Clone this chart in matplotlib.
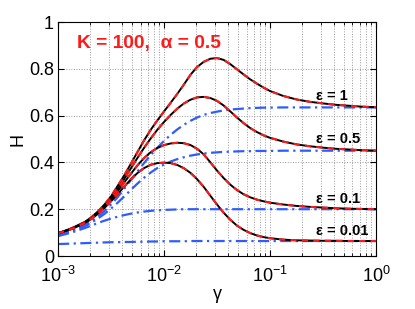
import matplotlib
matplotlib.use('Agg')
import matplotlib.pyplot as plt
import numpy as np

plt.rcParams['font.family'] = ['Liberation Sans', 'DejaVu Sans']
plt.rcParams['mathtext.fontset'] = 'custom'
plt.rcParams['mathtext.rm'] = 'Liberation Sans'
plt.rcParams['mathtext.it'] = 'Liberation Sans'

# log10(gamma) sample points
lg = [-3.0, -2.875,
      -2.75, -2.6875, -2.625, -2.5625, -2.5, -2.4375, -2.375, -2.3125, -2.25, -2.1875,
      -2.125, -2.0625, -2.0, -1.9375, -1.875, -1.8125, -1.75, -1.6875, -1.625, -1.5625,
      -1.5, -1.4375, -1.375, -1.3125, -1.25, -1.1875, -1.125, -1.0625, -1.0,
      -0.875, -0.75, -0.625, -0.5, -0.375, -0.25, -0.125, 0.0]

# H, full model (black solid / red dashed)
h_eps1 = [0.097, 0.118,
          0.145, 0.165, 0.190, 0.220, 0.255, 0.300, 0.345, 0.395, 0.445, 0.495,
          0.540, 0.580, 0.618, 0.655, 0.693, 0.733, 0.775, 0.808, 0.830, 0.843,
          0.846, 0.838, 0.820, 0.798, 0.776, 0.755, 0.737, 0.720, 0.705,
          0.684, 0.669, 0.659, 0.652, 0.646, 0.642, 0.638, 0.636]
h_eps05 = [0.097, 0.117,
           0.143, 0.163, 0.187, 0.215, 0.248, 0.287, 0.330, 0.375, 0.420, 0.463,
           0.503, 0.540, 0.573, 0.603, 0.630, 0.652, 0.668, 0.678, 0.680, 0.675,
           0.663, 0.643, 0.618, 0.592, 0.568, 0.547, 0.530, 0.516, 0.505,
           0.489, 0.477, 0.469, 0.463, 0.458, 0.455, 0.452, 0.450]
h_eps01 = [0.097, 0.116,
           0.142, 0.161, 0.184, 0.211, 0.242, 0.277, 0.315, 0.352, 0.388, 0.419,
           0.444, 0.462, 0.474, 0.481, 0.484, 0.482, 0.474, 0.458, 0.434, 0.400,
           0.365, 0.333, 0.305, 0.282, 0.264, 0.251, 0.241, 0.234, 0.228,
           0.220, 0.214, 0.210, 0.207, 0.204, 0.202, 0.201, 0.200]
h_eps001 = [0.097, 0.115,
            0.140, 0.158, 0.180, 0.205, 0.234, 0.265, 0.297, 0.328, 0.355, 0.376,
            0.390, 0.397, 0.399, 0.397, 0.389, 0.375, 0.355, 0.328, 0.295, 0.257,
            0.220, 0.185, 0.155, 0.130, 0.112, 0.098, 0.088, 0.081, 0.076,
            0.070, 0.067, 0.066, 0.065, 0.065, 0.064, 0.064, 0.064]

# H, limiting curves (blue dash-dot)
b_eps1 = [0.092, 0.108,
          0.132, 0.148, 0.168, 0.192, 0.220, 0.252, 0.288, 0.325, 0.362, 0.398,
          0.432, 0.463, 0.492, 0.518, 0.541, 0.561, 0.578, 0.592, 0.603, 0.611,
          0.617, 0.622, 0.626, 0.628, 0.630, 0.632, 0.633, 0.634, 0.634,
          0.635, 0.635, 0.635, 0.635, 0.635, 0.635, 0.635, 0.635]
b_eps05 = [0.090, 0.105,
           0.127, 0.142, 0.160, 0.180, 0.203, 0.228, 0.255, 0.283, 0.310, 0.335,
           0.357, 0.376, 0.391, 0.404, 0.414, 0.422, 0.429, 0.434, 0.438, 0.441,
           0.443, 0.445, 0.446, 0.447, 0.448, 0.448, 0.449, 0.449, 0.449,
           0.450, 0.450, 0.450, 0.450, 0.450, 0.450, 0.450, 0.450]
b_eps01 = [0.085, 0.100,
           0.119, 0.130, 0.141, 0.151, 0.160, 0.168, 0.175, 0.181, 0.186, 0.190,
           0.193, 0.195, 0.197, 0.198, 0.199, 0.200, 0.200, 0.200, 0.200, 0.200,
           0.200, 0.200, 0.200, 0.200, 0.200, 0.200, 0.200, 0.200, 0.200,
           0.200, 0.200, 0.200, 0.200, 0.200, 0.200, 0.200, 0.200]
b_eps001 = [0.051, 0.053,
            0.055, 0.056, 0.057, 0.058, 0.059, 0.059, 0.060, 0.060, 0.061, 0.061,
            0.062, 0.062, 0.063, 0.063, 0.063, 0.063, 0.064, 0.064, 0.064, 0.064,
            0.064, 0.064, 0.064, 0.064, 0.064, 0.064, 0.064, 0.064, 0.064,
            0.064, 0.064, 0.064, 0.064, 0.064, 0.064, 0.064, 0.064]

eps_labels = ['\u03b5 = 1', '\u03b5 = 0.5', '\u03b5 = 0.1', '\u03b5 = 0.01']
label_y = [0.667, 0.483, 0.226, 0.09]

gamma = 10.0 ** np.array(lg)

fig = plt.figure(figsize=(4.15, 3.09), dpi=100)
ax = fig.add_axes([0.14, 0.1715, 0.766, 0.7573])

blue = '#2f5cff'
for b in [b_eps1, b_eps05, b_eps01, b_eps001]:
    ax.plot(gamma, b, color=blue, linestyle='-.', linewidth=1.6, dashes=(5, 2, 1, 2))
for h in [h_eps1, h_eps05, h_eps01, h_eps001]:
    ax.plot(gamma, h, color='black', linestyle='-', linewidth=1.4)
    ax.plot(gamma, h, color='#ff1a1a', linestyle='--', linewidth=1.5, dashes=(3, 2.5))

for s, yy in zip(eps_labels, label_y):
    ax.text(0.27, yy, s, fontsize=10.5, fontweight='bold', ha='left', va='baseline')

ax.text(1.5e-3, 0.888, 'K = 100,  \u03b1 = 0.5', color='#ff1a1a', fontsize=13.8,
        fontweight='bold', ha='left', va='baseline')

ax.set_xscale('log')
ax.set_xlim(1e-3, 1)
ax.set_ylim(0, 1)
ax.set_xticks([1e-3, 1e-2, 1e-1, 1])
ax.set_xticklabels(['$10^{-3}$', '$10^{-2}$', '$10^{-1}$', '$10^{0}$'])
ax.set_yticks([0, 0.2, 0.4, 0.6, 0.8, 1])
ax.set_yticklabels(['0', '0.2', '0.4', '0.6', '0.8', '1'])
ax.tick_params(which='both', direction='in', top=True, right=True, labelsize=13)
ax.tick_params(which='major', length=4)
ax.tick_params(which='minor', length=2)
ax.tick_params(axis='y', pad=3)
ax.tick_params(axis='x', pad=7)
ax.grid(True, which='both', axis='x', color='#999999', linestyle=':', linewidth=0.7)
ax.grid(True, which='major', axis='y', color='#999999', linestyle=':', linewidth=0.7)
ax.set_xlabel('\u03b3', fontsize=13, labelpad=0)
ax.set_ylabel('H', fontsize=13, labelpad=2)

fig.savefig('out.png', dpi=100)
